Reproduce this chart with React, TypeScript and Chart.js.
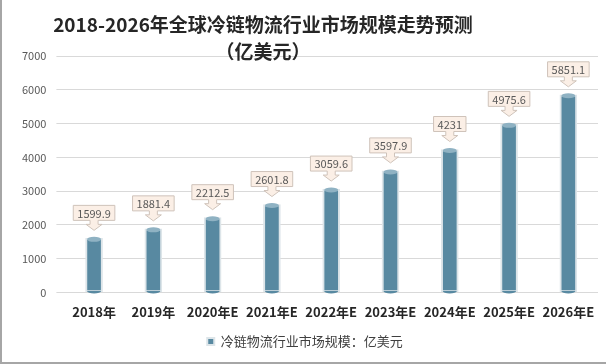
import React, { useEffect, useRef } from "react";
import { Chart, registerables } from "chart.js";

Chart.register(...registerables);

const categories = ["2018年", "2019年", "2020年E", "2021年E", "2022年E", "2023年E", "2024年E", "2025年E", "2026年E"];
const values = [1599.9, 1881.4, 2212.5, 2601.8, 3059.6, 3597.9, 4231, 4975.6, 5851.1];
const valueLabels = ["1599.9", "1881.4", "2212.5", "2601.8", "3059.6", "3597.9", "4231", "4975.6", "5851.1"];
const seriesName = "冷链物流行业市场规模：亿美元";
const titleLines = ["2018-2026年全球冷链物流行业市场规模走势预测", "（亿美元）"];

const FONT = "'Noto Sans CJK SC', 'Noto Sans', sans-serif";
const BAR = "#5889a1";

const decorPlugin = {
  id: "decor",
  afterDatasetsDraw(chart: any) {
    const ctx = chart.ctx;
    const meta = chart.getDatasetMeta(0);
    ctx.save();
    meta.data.forEach((bar: any, i: number) => {
      const x = bar.x;
      const y = bar.y;
      const w = 14;
      const base = bar.base;
      ctx.beginPath();
      ctx.ellipse(x, y + 1, w / 2, 2.5, 0, 0, Math.PI * 2);
      ctx.fillStyle = "#8fb2c3";
      ctx.fill();
      ctx.beginPath();
      ctx.ellipse(x, base - 1, w / 2, 2.5, 0, 0, Math.PI);
      ctx.fillStyle = BAR;
      ctx.fill();

      const txt = valueLabels[i];
      ctx.font = `11px ${FONT}`;
      const tw = ctx.measureText(txt).width;
      const bw = tw + 8;
      const bh = 15;
      const b = y - 18;
      const t = b - bh;
      const l = x - bw / 2;
      const r = x + bw / 2;
      ctx.beginPath();
      ctx.moveTo(l, t);
      ctx.lineTo(r, t);
      ctx.lineTo(r, b);
      ctx.lineTo(x + 4, b);
      ctx.lineTo(x + 4, b + 4);
      ctx.lineTo(x + 8, b + 4);
      ctx.lineTo(x, b + 10);
      ctx.lineTo(x - 8, b + 4);
      ctx.lineTo(x - 4, b + 4);
      ctx.lineTo(x - 4, b);
      ctx.lineTo(l, b);
      ctx.closePath();
      ctx.fillStyle = "#fbefe6";
      ctx.fill();
      ctx.strokeStyle = "#cfc3ba";
      ctx.lineWidth = 1;
      ctx.stroke();
      ctx.fillStyle = "#595959";
      ctx.textAlign = "center";
      ctx.textBaseline = "middle";
      ctx.fillText(txt, x, (t + b) / 2 + 0.5);
    });
    ctx.fillStyle = "#262626";
    ctx.font = `bold 19px ${FONT}`;
    ctx.textAlign = "center";
    ctx.textBaseline = "middle";
    ctx.fillText(titleLines[0], 261, 25);
    ctx.fillText(titleLines[1], 261, 52);
    ctx.restore();
  },
};

export default function App() {
  const ref = useRef<HTMLCanvasElement>(null);
  useEffect(() => {
    document.body.style.margin = "0";
    const chart = new Chart(ref.current!, {
      type: "bar",
      data: {
        labels: categories,
        datasets: [
          {
            label: seriesName,
            data: values,
            backgroundColor: BAR,
            borderColor: "#dde5e9",
            borderWidth: 2,
            barThickness: 17,
            borderSkipped: false,
          },
        ],
      },
      options: {
        responsive: false,
        animation: false,
        layout: { padding: { top: 56, right: 8, left: 10, bottom: 4 } },
        plugins: {
          title: { display: false },
          tooltip: { enabled: false },
          legend: {
            position: "bottom",
            labels: {
              boxWidth: 7,
              boxHeight: 7,
              color: "#404040",
              font: { size: 13, family: FONT },
              padding: 11,
            },
          },
        },
        scales: {
          x: {
            grid: { display: false },
            border: { display: false },
            ticks: { color: "#262626", font: { size: 13, weight: "bold", family: FONT }, padding: 4 },
          },
          y: {
            min: 0,
            max: 7000,
            ticks: {
              stepSize: 1000,
              color: "#595959",
              font: { size: 11, family: FONT },
              padding: 10,
              callback: (v: any) => String(v),
            },
            grid: { color: "#d9d9d9" },
            border: { display: false },
          },
        },
      },
      plugins: [decorPlugin],
    });
    return () => chart.destroy();
  }, []);
  return (
    <div style={{ width: 606, height: 364, boxSizing: "border-box", borderLeft: "2px solid #a6a6a6", borderBottom: "2px solid #a6a6a6", background: "#fff" }}>
      <canvas ref={ref} width={604} height={362} />
    </div>
  );
}
